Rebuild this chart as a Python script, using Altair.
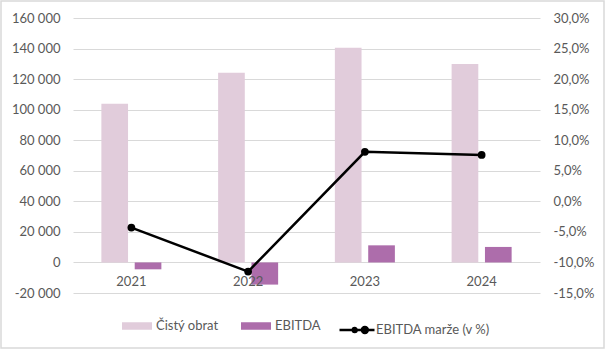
import altair as alt
import pandas as pd

years = ["2021", "2022", "2023", "2024"]
revenue = [103900, 124200, 140600, 129900]
ebitda = [-4500, -14500, 11200, 10150]
margin = [-4.3, -11.5, 8.1, 7.6]

series_names = ["Čistý obrat", "EBITDA"]
line_name = "EBITDA marže (v %)"
left_ticks = [-20000, 0, 20000, 40000, 60000, 80000, 100000, 120000, 140000, 160000]
right_ticks = [-15, -10, -5, 0, 5, 10, 15, 20, 25, 30]

bars_df = pd.DataFrame(
    [{"year": y, "series": series_names[0], "value": v} for y, v in zip(years, revenue)]
    + [{"year": y, "series": series_names[1], "value": v} for y, v in zip(years, ebitda)]
)
line_df = pd.DataFrame({"year": years, "margin": margin, "label": [line_name] * len(years)})
year_df = pd.DataFrame({"year": years, "value": [0] * len(years)})

FONT = "Lato"
TXT = "#595959"
GRID = "#d9d9d9"

x_enc = alt.X("year:N", sort=years, axis=None,
              scale=alt.Scale(paddingInner=0.486, paddingOuter=0.243))

y_left = alt.Y("value:Q",
               scale=alt.Scale(domain=[-20000, 160000], nice=False, zero=False),
               axis=alt.Axis(values=left_ticks, title=None, orient="left",
                             grid=True, gridColor=GRID, gridWidth=1,
                             domain=False, ticks=False, labelPadding=13,
                             labelExpr="datum.value == 0 ? '0' : (datum.value < 0 ? '-' : '') + floor(abs(datum.value)/1000) + ' 000'"))

bars = alt.Chart(bars_df).mark_bar().encode(
    x=x_enc,
    xOffset=alt.XOffset("series:N", sort=series_names,
                        scale=alt.Scale(paddingInner=0.2, paddingOuter=0)),
    y=y_left,
    color=alt.Color("series:N", sort=series_names,
                    scale=alt.Scale(domain=series_names, range=["#E1CCDB", "#AD6DAB"]),
                    legend=alt.Legend(title=None, orient="none", direction="horizontal",
                                      legendX=49, legendY=293,
                                      symbolType="M-1,-0.25H1V0.25H-1Z", symbolSize=900,
                                      symbolStrokeWidth=0, columnPadding=22, labelOffset=4,
                                      labelFont=FONT, labelFontSize=13, labelColor=TXT)),
)

year_labels = alt.Chart(year_df).mark_text(
    dy=20, font=FONT, fontSize=13, color=TXT
).encode(
    x=x_enc,
    y=y_left,
    text="year:N",
)

left = alt.layer(bars, year_labels)

line = alt.Chart(line_df).mark_line(
    strokeWidth=2.5, point=alt.OverlayMarkDef(filled=True, size=60, color="black")
).encode(
    x=x_enc,
    y=alt.Y("margin:Q",
            scale=alt.Scale(domain=[-15, 30], nice=False, zero=False),
            axis=alt.Axis(values=right_ticks, title=None, orient="right",
                          grid=False, domain=False, ticks=False, labelPadding=13,
                          labelExpr="replace((datum.value < 0 ? '-' : '') + format(abs(datum.value), '.1f'), '.', ',') + '%'")),
    color=alt.Color("label:N",
                    scale=alt.Scale(domain=[line_name], range=["black"]),
                    legend=alt.Legend(title=None, orient="none", legendX=265, legendY=293,
                                      symbolType="M-1,0H1M0.62,0A0.17,0.17,0,1,1,0.28,0A0.17,0.17,0,1,1,0.62,0M-0.02,0A0.11,0.11,0,1,1,-0.24,0A0.11,0.11,0,1,1,-0.02,0",
                                      symbolSize=1225, symbolStrokeWidth=2.5,
                                      symbolFillColor="black", symbolStrokeColor="black",
                                      labelOffset=0,
                                      labelFont=FONT, labelFontSize=13, labelColor=TXT)),
)

border = alt.Chart(pd.DataFrame({"a": [0]})).mark_rect(
    fill=None, stroke=GRID, strokeWidth=1.5
).encode(
    x=alt.value(-72), x2=alt.value(531), y=alt.value(-17), y2=alt.value(330)
)

chart = alt.layer(left, line, border).resolve_scale(
    y="independent", color="independent"
).properties(
    width=467, height=275,
    padding={"left": 73, "top": 18, "right": 65, "bottom": 57},
    autosize=alt.AutoSizeParams(type="none"),
).configure_view(stroke=None).configure_axis(
    labelFont=FONT, labelFontSize=13, labelColor=TXT
)

chart.save("out.html", embed_options={"renderer": "svg", "actions": False})
